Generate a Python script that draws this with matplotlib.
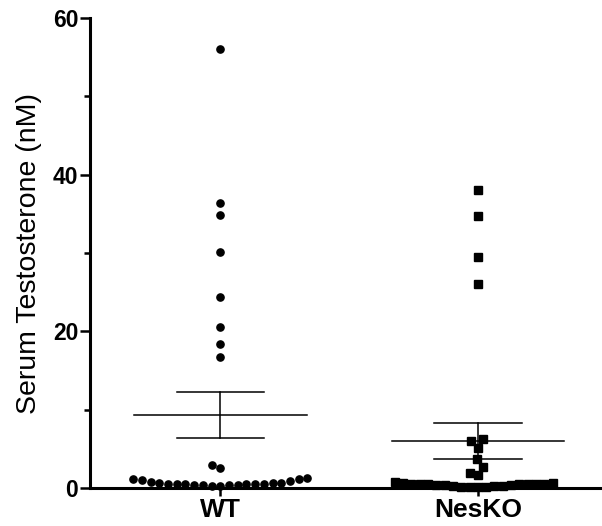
import numpy as np
import matplotlib.pyplot as plt

plt.rcParams['font.family'] = ['Liberation Sans', 'DejaVu Sans']

# values (nM)
groups = ["WT", "NesKO"]
wt_vals = [56.0, 36.4, 34.8, 30.1, 24.4, 20.6, 18.4, 16.7, 2.9, 2.5,
           1.3, 1.2, 1.1, 1.0, 0.9, 0.75, 0.7, 0.6, 0.6, 0.55, 0.55,
           0.5, 0.5, 0.45, 0.45, 0.4, 0.4, 0.35, 0.35, 0.3, 0.3]
nesko_vals = [38.0, 34.7, 29.5, 26.0, 6.2, 6.0, 5.1, 3.7, 2.7, 1.9, 1.6,
              0.75, 0.65, 0.6, 0.55, 0.55, 0.5, 0.5, 0.5, 0.45, 0.45,
              0.4, 0.4, 0.35, 0.3, 0.2, 0.2, 0.15, 0.15, 0.1, 0.1]
means = [9.3, 6.0]
sems = [2.9, 2.25]
markers = ["o", "s"]

fig = plt.figure(figsize=(6.02, 5.26), dpi=100)
ax = fig.add_axes([90 / 602, 38 / 526, 512 / 602, 470 / 526])
ax.set_xlim(-0.506, 1.482)
ax.set_ylim(0, 60)

# pixel scales for the swarm layout
px_per_x = 257.0
px_per_y = 470.0 / 60
gap_x = [8.7, 8.3]   # horizontal spacing of neighbours, px
gap_y = 11.0         # vertical reach of a marker, px


def swarm(vals, dx, dy):
    order = np.argsort(vals, kind="stable")
    placed = []
    offs = np.zeros(len(vals))
    for i in order:
        y = vals[i] * px_per_y
        cands = [0.0]
        for xo, yo in placed:
            d = abs(y - yo)
            if d < dy:
                w = dx * np.sqrt(1 - (d / dy) ** 2)
                cands += [xo - w, xo + w]
        cands.sort(key=lambda c: (abs(c), c))
        for c in cands:
            hit = any(((c - xo) / dx) ** 2 + ((y - yo) / dy) ** 2 < 1 - 1e-6
                      for xo, yo in placed)
            if not hit:
                break
        placed.append((c, y))
        offs[i] = c / px_per_x
    return offs


for gi, vals in enumerate([wt_vals, nesko_vals]):
    xs = gi + swarm(vals, gap_x[gi], gap_y)
    ax.plot(xs, vals, linestyle="none", marker=markers[gi],
            markersize=5.2, color="black", clip_on=False, zorder=3)
    m, s = means[gi], sems[gi]
    ax.plot([gi - 0.335, gi + 0.335], [m, m], color="black", lw=1.1)
    ax.plot([gi - 0.17, gi + 0.17], [m + s, m + s], color="black", lw=1.1)
    ax.plot([gi - 0.17, gi + 0.17], [m - s, m - s], color="black", lw=1.1)
    ax.plot([gi, gi], [m - s, m + s], color="black", lw=1.1)

ax.spines["top"].set_visible(False)
ax.spines["right"].set_visible(False)
ax.spines["left"].set_linewidth(2.2)
ax.spines["bottom"].set_linewidth(2.2)

ax.set_yticks([0, 20, 40, 60])
ax.set_yticks([10, 30, 50], minor=True)
ax.tick_params(axis="y", which="major", length=7, width=1.8,
               labelsize=16.5, pad=1.5)
ax.tick_params(axis="y", which="minor", length=4.5, width=1.8)
for lab in ax.get_yticklabels():
    lab.set_fontweight("bold")

ax.set_xticks([0, 1])
ax.set_xticklabels(groups, fontsize=19, fontweight="bold")
ax.tick_params(axis="x", length=6, width=1.8, pad=1)

ax.set_ylabel("Serum Testosterone (nM)", fontsize=20.5, labelpad=8)

fig.savefig("out.png", dpi=100)
